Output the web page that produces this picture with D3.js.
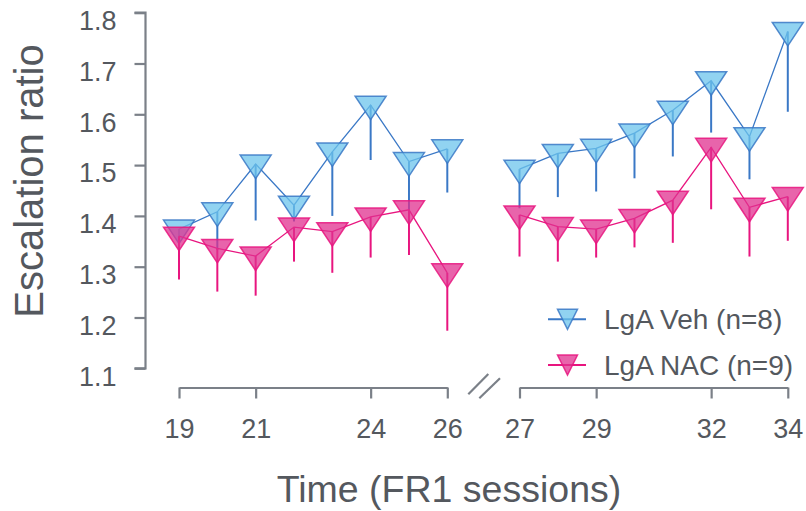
<!DOCTYPE html>
<html>
<head>
<meta charset="utf-8">
<script src="https://cdn.jsdelivr.net/npm/d3@7"></script>
<style>
  body { margin: 0; background: #fff; }
  text { font-family: "Liberation Sans", Arial, sans-serif; }
</style>
</head>
<body>
<svg id="chart" width="806" height="511"></svg>
<script>
// sessions, split by the axis break
const sessionsA = [19, 20, 21, 22, 23, 24, 25, 26];
const sessionsB = [27, 28, 29, 30, 31, 32, 33, 34];
const ticksA = [19, 21, 24, 26];
const ticksB = [27, 29, 32, 34];
const yTicks = [1.1, 1.2, 1.3, 1.4, 1.5, 1.6, 1.7, 1.8];

// LgA Veh (n=8)
const vehMean = [1.374, 1.408, 1.502, 1.421, 1.526, 1.618, 1.507, 1.532,
                 1.492, 1.523, 1.533, 1.563, 1.608, 1.666, 1.556, 1.763];
const vehErr  = [0.044, 0.075, 0.111, 0.032, 0.126, 0.108, 0.095, 0.086,
                 0.077, 0.086, 0.085, 0.089, 0.091, 0.102, 0.084, 0.158];
// LgA NAC (n=9)
const nacMean = [1.360, 1.336, 1.321, 1.378, 1.369, 1.398, 1.412, 1.288,
                 1.402, 1.379, 1.374, 1.395, 1.431, 1.535, 1.417, 1.438];
const nacErr  = [0.085, 0.085, 0.078, 0.068, 0.081, 0.080, 0.089, 0.114,
                 0.082, 0.069, 0.056, 0.057, 0.084, 0.122, 0.097, 0.087];

const axisCol = "#7b8088";
const textCol = "#54585e";

const svg = d3.select("#chart");

const xA = d3.scaleLinear().domain([19, 26]).range([179, 447.3]);
const xB = d3.scaleLinear().domain([27, 34]).range([519.5, 787.8]);
const x = s => s <= 26 ? xA(s) : xB(s);
const y = d3.scaleLinear().domain([1.1, 1.8]).range([368.3, 12.7]);

const xAxisY = 387.5;

// y axis
const gy = svg.append("g")
  .attr("transform", "translate(145.5,0)")
  .call(d3.axisLeft(y).tickValues(yTicks).tickFormat(d3.format(".1f")).tickSize(11).tickPadding(18));
gy.select(".domain").attr("d", "M-11," + y(1.8) + "H0V" + y(1.1) + "H-11");
gy.selectAll("line, path").attr("stroke", axisCol).attr("stroke-width", 2.2);
gy.selectAll("text").attr("fill", textCol).attr("font-size", 27)
  .attr("dy", "0.62em");

// x axis, two segments
function xAxis(scale, ticks) {
  const g = svg.append("g")
    .attr("transform", "translate(0," + xAxisY + ")")
    .call(d3.axisBottom(scale).tickValues(ticks).tickFormat(d3.format("d"))
      .tickSize(11).tickSizeOuter(0).tickPadding(20));
  g.selectAll("line, path").attr("stroke", axisCol).attr("stroke-width", 2.2);
  g.selectAll("text").attr("fill", textCol).attr("font-size", 27);
}
xAxis(xA, ticksA);
xAxis(xB, ticksB);

// break marks
[[468.3, 394.3, 488.3, 374], [479.3, 398.3, 500, 378.3]].forEach(d => {
  svg.append("line")
    .attr("x1", d[0]).attr("y1", d[1]).attr("x2", d[2]).attr("y2", d[3])
    .attr("stroke", axisCol).attr("stroke-width", 2.2);
});

// axis titles
svg.append("text")
  .attr("transform", "translate(43,181) rotate(-90)")
  .attr("text-anchor", "middle")
  .attr("fill", textCol).attr("font-size", 40)
  .text("Escalation ratio");
svg.append("text")
  .attr("x", 449).attr("y", 502)
  .attr("text-anchor", "middle")
  .attr("fill", textCol).attr("font-size", 37.5)
  .text("Time (FR1 sessions)");

const tri = "M-15.5,-9L15.5,-9L0,14.5Z";

function drawSeries(mean, err, lineCol, fillCol) {
  const rows = sessionsA.concat(sessionsB).map((s, i) => ({ s: s, m: mean[i], e: err[i] }));
  const line = d3.line().x(d => x(d.s)).y(d => y(d.m));
  [rows.filter(d => d.s <= 26), rows.filter(d => d.s > 26)].forEach(part => {
    svg.append("path").datum(part)
      .attr("d", line)
      .attr("fill", "none").attr("stroke", lineCol).attr("stroke-width", 1.3);
  });
  svg.append("g").selectAll("line")
    .data(rows).enter().append("line")
    .attr("x1", d => x(d.s)).attr("x2", d => x(d.s))
    .attr("y1", d => y(d.m)).attr("y2", d => y(d.m - d.e))
    .attr("stroke", lineCol).attr("stroke-width", 2);
  svg.append("g").selectAll("path")
    .data(rows).enter().append("path")
    .attr("d", tri)
    .attr("transform", d => "translate(" + x(d.s) + "," + y(d.m) + ")")
    .attr("fill", fillCol).attr("fill-opacity", 0.75)
    .attr("stroke", lineCol).attr("stroke-width", 1.5).attr("stroke-opacity", 0.85);
}

drawSeries(vehMean, vehErr, "#3a78c6", "#6cc4ec");
drawSeries(nacMean, nacErr, "#e8157f", "#e0308f");

// legend
const legend = [
  { label: "LgA Veh (n=8)", line: "#3a78c6", fill: "#6cc4ec", y: 319.3 },
  { label: "LgA NAC (n=9)", line: "#e8157f", fill: "#e0308f", y: 365 }
];
const lg = svg.append("g").selectAll("g").data(legend).enter().append("g")
  .attr("transform", d => "translate(0," + d.y + ")");
lg.append("line").attr("x1", 548).attr("x2", 586)
  .attr("stroke", d => d.line).attr("stroke-width", 2);
lg.append("path").attr("d", "M557.5,-10L577.5,-10L567.5,10Z")
  .attr("fill", d => d.fill).attr("fill-opacity", 0.75)
  .attr("stroke", d => d.line).attr("stroke-width", 1.5).attr("stroke-opacity", 0.85);
lg.append("text").attr("x", 604).attr("y", 9.5)
  .attr("fill", textCol).attr("font-size", 28)
  .text(d => d.label);
</script>
</body>
</html>
